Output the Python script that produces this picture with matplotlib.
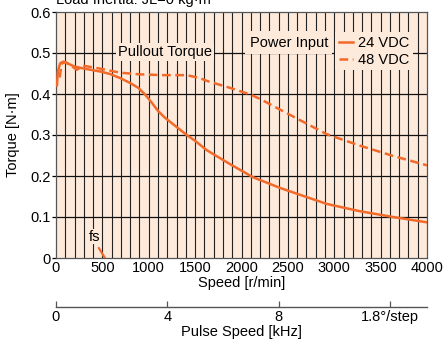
import matplotlib
matplotlib.use("Agg")
import matplotlib.pyplot as plt
from matplotlib import font_manager
import numpy as np

# data
speed_24 = [0, 10, 20, 45, 80, 200, 300, 474, 580, 690, 798, 887, 960, 1032,
            1103, 1175, 1265, 1409, 1499, 1625, 1876, 2124, 2415, 2555, 2918,
            3278, 3633, 4000]
torque_24 = [0.423, 0.42, 0.455, 0.475, 0.479, 0.467, 0.462, 0.455, 0.449, 0.439,
             0.427, 0.415, 0.399, 0.379, 0.358, 0.342, 0.326, 0.300, 0.286, 0.263,
             0.229, 0.197, 0.171, 0.160, 0.132, 0.114, 0.100, 0.087]
speed_48 = [40, 60, 100, 160, 223, 294, 474, 690, 900, 1153, 1409, 1550, 1625,
            1876, 2092, 2200, 2415, 2918, 3278, 3633, 4000]
torque_48 = [0.44, 0.474, 0.478, 0.47, 0.459, 0.469, 0.462, 0.452, 0.448, 0.446,
             0.446, 0.439, 0.432, 0.415, 0.399, 0.388, 0.362, 0.302, 0.274, 0.249,
             0.226]
fs_speed = [463, 527]
fs_torque = [0.024, 0.0]

yticks = [0, 0.1, 0.2, 0.3, 0.4, 0.5, 0.6]
ytick_labels = ['0', '0.1', '0.2', '0.3', '0.4', '0.5', '0.6']
xticks = [0, 500, 1000, 1500, 2000, 2500, 3000, 3500, 4000]
khz_ticks = [0, 4, 8, 12]
khz_labels = ['0', '4', '8', '1.8°/step']

orange = '#f26a2a'
peach = '#fdeadb'
names = {f.name for f in font_manager.fontManager.ttflist}
fams = [n for n in ['Liberation Sans Narrow', 'Liberation Sans'] if n in names]
plt.rcParams['font.family'] = fams + ['DejaVu Sans']
fs = 10.5

fig = plt.figure(figsize=(4.43, 3.49), dpi=100)
W, H = 443, 349
x0, x1, y0, y1 = 56, 427, 258, 12
ax = fig.add_axes([x0 / W, 1 - y0 / H, (x1 - x0) / W, (y0 - y1) / H])
ax.set_facecolor(peach)
ax.set_xlim(0, 4000)
ax.set_ylim(0, 0.6)

for v in range(100, 4000, 100):
    ax.axvline(v, color='#222222', lw=0.8, zorder=1)
for t in yticks[1:-1]:
    ax.axhline(t, color='#111111', lw=0.9, zorder=1)

ax.plot(speed_24, torque_24, color=orange, lw=1.8, zorder=3, label='24 VDC')
ax.plot(speed_48, torque_48, color=orange, lw=1.8, ls=(0, (3.5, 1.8)), zorder=3, label='48 VDC')
ax.plot(fs_speed, fs_torque, color=orange, lw=1.6, zorder=3)

ax.set_yticks(yticks)
ax.set_yticklabels(ytick_labels)
ax.set_xticks(xticks)
ax.tick_params(axis='y', length=3, width=0.9, labelsize=fs, pad=1)
ax.tick_params(axis='x', length=0, labelsize=fs, pad=2)
for s in ax.spines.values():
    s.set_color('#555555')
    s.set_linewidth(0.9)
ax.set_xlabel('Speed [r/min]', fontsize=fs, labelpad=1)
ax.set_ylabel('Torque [N·m]', fontsize=fs, labelpad=7)

box = dict(facecolor=peach, edgecolor='none', pad=1.5)
ax.text(1175, 0.503, 'Pullout Torque', fontsize=fs, ha='center', va='center', bbox=box, zorder=4)
ax.text(420, 0.052, 'fs', fontsize=fs, ha='center', va='center',
        bbox=dict(facecolor=peach, edgecolor='none', pad=0.5), zorder=4)
ax.text(0.733, 0.876, 'Power Input', transform=ax.transAxes, fontsize=fs,
        ha='right', va='center', bbox=dict(facecolor=peach, edgecolor='none', pad=3), zorder=4)
leg = ax.legend(loc='upper right', bbox_to_anchor=(0.963, 0.918), fontsize=fs,
                handlelength=1.0, handletextpad=0.35, labelspacing=0.2, borderpad=0.25,
                borderaxespad=0, frameon=True, fancybox=False)
leg.get_frame().set_facecolor(peach)
leg.get_frame().set_edgecolor('none')
leg.get_frame().set_alpha(1)
leg.set_zorder(5)

# pulse speed axis
ax2 = fig.add_axes([x0 / W, 1 - 307 / H, (x1 - x0) / W, 0.0001])
ax2.set_xlim(0, 4000 * 200 / 60 / 1000)
ax2.set_yticks([])
for k in ['top', 'left', 'right']:
    ax2.spines[k].set_visible(False)
ax2.spines['bottom'].set_color('#555555')
ax2.spines['bottom'].set_linewidth(1.0)
ax2.set_xticks(khz_ticks)
ax2.set_xticklabels(khz_labels)
ax2.tick_params(axis='x', direction='in', length=4, width=0.9, labelsize=fs, pad=2, color='#555555')
ax2.set_xlabel('Pulse Speed [kHz]', fontsize=fs, labelpad=1)
ax2.patch.set_visible(False)

fig.text(x0 / W, 1 - 4 / H, 'Load Inertia: JL=0 kg·m²', fontsize=fs, ha='left', va='baseline')

fig.savefig('out.png', dpi=100)
